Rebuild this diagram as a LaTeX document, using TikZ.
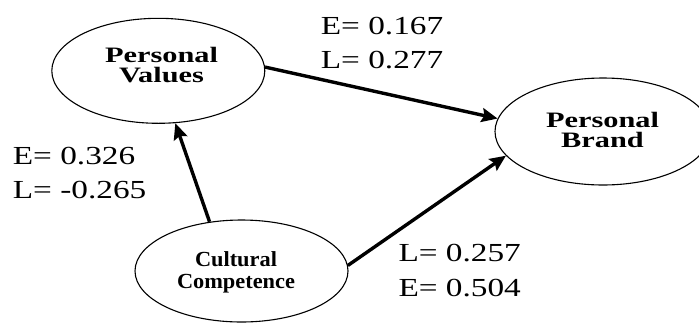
\documentclass[tikz,border=0pt]{standalone}
\usepackage{fontspec}
\setmainfont{Liberation Serif}
\newfontfamily\labfont[FakeStretch=1.28]{Liberation Serif}
\newfontfamily\widebold[FakeStretch=1.38]{Liberation Serif Bold}
\newfontfamily\nodebold[FakeStretch=1.04]{Liberation Serif Bold}
\usetikzlibrary{arrows.meta,shapes.geometric}
\tikzset{
  ellip/.style={draw, ellipse, line width=1.1pt, inner sep=0pt},
  widetxt/.style={align=center, inner sep=0pt, font=\widebold\fontsize{22}{20.5}\selectfont},
  cctxt/.style={align=center, inner sep=0pt, font=\nodebold\fontsize{21.5}{21.6}\selectfont},
  lab/.style={anchor=base west, inner sep=0pt, font=\labfont\fontsize{26}{30}\selectfont},
  arr/.style={line width=3.4pt, -{Stealth[length=16pt,width=14pt,inset=2.5pt]}},
}
\begin{document}
\begin{tikzpicture}[x=1pt,y=1pt]
\useasboundingbox (0,0) rectangle (699,-322);
\node[ellip, minimum width=213pt, minimum height=105pt] (pv) at (158.3,-70.8) {};
\node[widetxt] (pvt) at (161.5,-65) {Personal\\Values};
\node[ellip, minimum width=216pt, minimum height=107pt] (pb) at (603,-131.5) {};
\node[widetxt] (pbt) at (602.5,-130) {Personal\\Brand};
\node[ellip, minimum width=213pt, minimum height=102pt] (cc) at (241.5,-271) {};
\node[cctxt] (cct) at (236,-272.5) {Cultural\\Competence};
\draw[arr] (pv.2) -- (pb.173);
\draw[arr] (cc.123) -- (pv.-72);
\draw[arr] (cc.3) -- (pb.194);
\node[lab] (e1) at (320.7,-34.3) {E= 0.167};
\node[lab] (l1) at (320.7,-68.3) {L= 0.277};
\node[lab] (e2) at (12.7,-164.3) {E= 0.326};
\node[lab] (l2) at (12.7,-198.3) {L= -0.265};
\node[lab] (l3) at (398.3,-261.7) {L= 0.257};
\node[lab] (e3) at (398.3,-296.7) {E= 0.504};
\end{tikzpicture}
\end{document}
